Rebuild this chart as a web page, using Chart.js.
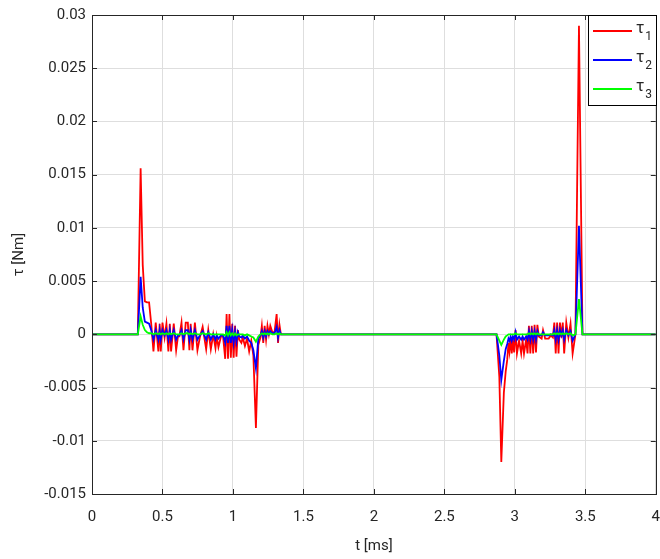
<!DOCTYPE html>
<html>
<head>
<meta charset="utf-8">
<script src="https://cdn.jsdelivr.net/npm/chart.js@4.4.1/dist/chart.umd.min.js"></script>
<style>
html,body{margin:0;padding:0;background:#fff;}
#wrap{width:660px;height:559px;position:relative;}
</style>
</head>
<body>
<div id="wrap"><canvas id="c" width="660" height="559"></canvas></div>
<script>
// ---- data (time in ms, torque in Nm) ----
const t = [0,0.325,0.345,0.36,0.375,0.39,0.405,0.42,0.436,0.452,0.471,0.48,0.488,0.50,0.515,0.528,0.542,0.552,0.561,0.58,0.597,0.61,0.62,0.635,0.649,0.665,0.68,0.691,0.70,0.713,0.73,0.748,0.765,0.785,0.81,0.825,0.843,0.86,0.876,0.885,0.897,0.915,0.93,0.945,0.955,0.965,0.975,0.985,0.995,1.005,1.015,1.025,1.035,1.045,1.06,1.07,1.085,1.10,1.115,1.13,1.145,1.163,1.18,1.195,1.205,1.215,1.225,1.235,1.245,1.255,1.265,1.28,1.295,1.31,1.32,1.33,1.34,2.87,2.89,2.904,2.922,2.935,2.946,2.955,2.962,2.97,2.978,2.986,2.995,3.005,3.015,3.03,3.045,3.055,3.065,3.08,3.09,3.10,3.11,3.12,3.13,3.14,3.15,3.16,3.17,3.19,3.20,3.215,3.24,3.255,3.27,3.28,3.29,3.30,3.31,3.32,3.33,3.34,3.35,3.365,3.38,3.395,3.41,3.43,3.455,3.48,4];
const tau1 = [0,0,0.0156,0.0065,0.0031,0.0030,0.0030,0.0010,-0.0016,0.0011,-0.0016,0.0010,-0.0016,0.0011,-0.0003,0.0010,-0.0016,0.0010,-0.0016,0.0010,-0.0015,-0.0002,-0.0002,0.0011,-0.0015,0.0011,0.0011,-0.0015,0.0010,-0.0015,0.0011,-0.0015,-0.0003,0.0007,-0.0014,0.0004,-0.0014,0.0000,-0.0013,-0.0002,-0.0012,-0.0002,-0.0002,-0.0023,0.0019,-0.0023,0.0019,-0.0022,0.0010,-0.0022,0.0008,-0.0021,0.0004,-0.0005,-0.0008,-0.0003,-0.0011,-0.0004,-0.0016,-0.0006,-0.0020,-0.0088,-0.0010,-0.0003,0.0008,-0.0008,0.0008,-0.0005,0.0008,0.0000,0.0008,0.0002,0.0002,0.0019,-0.0008,0.0009,0,0,-0.0040,-0.0120,-0.0055,-0.0035,-0.0024,-0.0008,-0.0016,-0.0004,-0.0018,-0.0005,-0.0017,0.0004,-0.0018,-0.0006,-0.0018,-0.0006,-0.0018,-0.0005,-0.0018,0.0008,-0.0018,0.0008,-0.0018,0.0009,-0.0017,0.0009,-0.0002,-0.0004,0.0004,-0.0004,-0.0004,-0.0001,-0.0003,0.0011,-0.0018,0.0011,-0.0018,0.0011,-0.0003,0.0011,-0.0018,0.0011,-0.0003,0.0010,-0.0018,0.0000,0.0290,0,0];
const tau2 = [0,0,0.0054,0.0025,0.0012,0.0011,0.0010,0.0004,-0.0005,0.0004,-0.0005,0.0004,-0.0005,0.0004,-0.0001,0.0004,-0.0005,0.0004,-0.0005,0.0004,-0.0005,-0.0001,-0.0001,0.0004,-0.0005,0.0004,0.0004,-0.0005,0.0004,-0.0005,0.0004,-0.0005,-0.0001,0.0003,-0.0005,0.0002,-0.0005,0,-0.0005,-0.0001,-0.0004,-0.0001,-0.0001,-0.0008,0.0008,-0.0008,0.0008,-0.0008,0.0004,-0.0008,0.0003,-0.0007,0.0002,-0.0002,-0.0003,-0.0001,-0.0004,-0.0002,-0.0006,-0.0008,-0.0015,-0.0032,-0.0004,-0.0001,0.0003,-0.0003,0.0003,-0.0002,0.0003,0,0.0003,0.0001,0.0001,0.0007,-0.0003,0.0004,0,0,-0.0020,-0.0043,-0.0025,-0.0014,-0.0009,-0.0004,-0.0006,-0.0002,-0.0006,-0.0002,-0.0005,0.0002,-0.0005,-0.0002,-0.0005,-0.0002,-0.0005,-0.0002,-0.0005,0.0003,-0.0005,0.0003,-0.0005,0.0003,-0.0005,0.0003,-0.0001,-0.0001,0.0002,-0.0001,-0.0001,0,-0.0001,0.0004,-0.0005,0.0004,-0.0005,0.0004,-0.0001,0.0004,-0.0005,0.0004,-0.0001,0.0003,-0.0006,0,0.0102,0,0];
const tau3 = [0,0,0.0017,0.0009,0.0004,0.0002,0.0001,0.0001,0,0.0001,0,0.0001,0,0.0001,0,0.0001,0,0.0001,0,0.0001,0,0,0,0.0001,0,0.0001,0.0001,0,0.0001,0,0.0001,0,0,0.0001,0,0.0001,0,0,0,0,0,0,0,-0.0001,0.0002,-0.0001,0.0002,-0.0001,0.0001,-0.0001,0.0001,-0.0001,0,0,0,0,-0.0001,0,-0.0001,-0.0002,-0.0003,-0.0007,-0.0002,0,0.0001,0,0.0001,0,0.0001,0,0.0001,0,0,0.0001,0,0.0001,0,0,-0.0006,-0.0010,-0.0005,-0.0002,-0.0001,0,0,0,0,0,0,0.0001,0,0,0,0,0,0,0,0.0001,0,0.0001,0,0.0001,0,0.0001,0,0,0,0,0,0,0,0.0001,0,0.0001,0,0.0001,0,0.0001,0,0.0001,0,0.0001,-0.0001,0,0.0033,0,0];
const seriesNames = ['τ1','τ2','τ3'];
const seriesColors = ['#ff0000','#0000ff','#00ff00'];
const xTicks = [0,0.5,1,1.5,2,2.5,3,3.5,4];
const yTicks = [-0.015,-0.01,-0.005,0,0.005,0.01,0.015,0.02,0.025,0.03];
const yTickLabels = ['-0.015','-0.01','-0.005','0','0.005','0.01','0.015','0.02','0.025','0.03'];
const xTickLabels = ['0','0.5','1','1.5','2','2.5','3','3.5','4'];

const FONT = 'Roboto, "Liberation Sans", Arial, sans-serif';
const TXT = '#262626';

const series = [tau1, tau2, tau3];
const datasets = series.map((vals, i) => ({
  label: seriesNames[i],
  data: t.map((x, k) => ({x: x, y: vals[k]})),
  borderColor: seriesColors[i],
  backgroundColor: seriesColors[i],
  borderWidth: 1.8,
  pointRadius: 0,
  tension: 0,
  fill: false,
  order: 2 - i
}));

const boxPlugin = {
  id: 'matlabBox',
  afterDraw(chart) {
    const ctx = chart.ctx, a = chart.chartArea;
    const xs = chart.scales.x, ys = chart.scales.y;
    ctx.save();
    ctx.strokeStyle = '#262626';
    ctx.lineWidth = 1;
    ctx.strokeRect(Math.round(a.left)+0.5, Math.round(a.top)+0.5, Math.round(a.right-a.left), Math.round(a.bottom-a.top));
    const L = 5;
    ctx.beginPath();
    xTicks.forEach(v => {
      const px = Math.round(xs.getPixelForValue(v)) + 0.5;
      ctx.moveTo(px, a.bottom); ctx.lineTo(px, a.bottom - L);
      ctx.moveTo(px, a.top); ctx.lineTo(px, a.top + L);
    });
    yTicks.forEach(v => {
      const py = Math.round(ys.getPixelForValue(v)) + 0.5;
      ctx.moveTo(a.left, py); ctx.lineTo(a.left + L, py);
      ctx.moveTo(a.right, py); ctx.lineTo(a.right - L, py);
    });
    ctx.stroke();

    // legend box (top-right, inside axes)
    const bw = 68, bh = 90;
    const bx = Math.round(a.right) - bw, by = Math.round(a.top);
    ctx.fillStyle = '#fff';
    ctx.fillRect(bx, by, bw, bh);
    ctx.strokeStyle = '#000';
    ctx.strokeRect(bx + 0.5, by + 0.5, bw, bh);
    chart.data.datasets.forEach((ds, i) => {
      const ly = by + 16 + i * 29;
      ctx.strokeStyle = ds.borderColor;
      ctx.lineWidth = 1.8;
      ctx.beginPath();
      ctx.moveTo(bx + 5, ly); ctx.lineTo(bx + 44, ly);
      ctx.stroke();
      ctx.fillStyle = TXT;
      ctx.textBaseline = 'middle';
      ctx.textAlign = 'left';
      ctx.font = '16px ' + FONT;
      const base = ds.label.charAt(0), sub = ds.label.slice(1);
      ctx.fillText(base, bx + 48, ly - 2);
      const w = ctx.measureText(base).width;
      ctx.font = '12px ' + FONT;
      ctx.fillText(sub, bx + 48 + w + 1, ly + 6);
    });
    ctx.restore();
  }
};

new Chart(document.getElementById('c'), {
  type: 'line',
  data: { datasets },
  options: {
    responsive: false,
    animation: false,
    devicePixelRatio: 1,
    layout: { padding: { left: 0, right: 0, top: 10, bottom: 0 } },
    plugins: { legend: { display: false }, tooltip: { enabled: false } },
    scales: {
      x: {
        type: 'linear', min: 0, max: 4,
        afterBuildTicks: s => { s.ticks = xTicks.map(v => ({value: v})); },
        afterFit: s => { s.height = 65; },
        ticks: {
          callback: (v) => xTickLabels[xTicks.indexOf(v)] ?? '',
          color: TXT, font: { family: FONT, size: 15 }, padding: 0, maxRotation: 0
        },
        grid: { color: '#dedede', lineWidth: 1, drawTicks: true, tickLength: 14, tickColor: 'rgba(0,0,0,0)' },
        border: { display: false },
        title: { display: true, text: 't [ms]', color: TXT, font: { family: FONT, size: 15 }, padding: { top: 4, bottom: 4 } }
      },
      y: {
        type: 'linear', min: -0.015, max: 0.03,
        afterBuildTicks: s => { s.ticks = yTicks.map(v => ({value: v})); },
        afterFit: s => { s.width = 92; },
        ticks: {
          callback: (v) => { const k = yTicks.findIndex(q => Math.abs(q - v) < 1e-9); return k >= 0 ? yTickLabels[k] : ''; },
          color: TXT, font: { family: FONT, size: 15 }, padding: 6
        },
        grid: { color: '#dedede', lineWidth: 1, drawTicks: false },
        border: { display: false },
        title: { display: true, text: 'τ [Nm]', color: TXT, font: { family: FONT, size: 15 }, padding: { top: 10, bottom: 4 } }
      }
    }
  },
  plugins: [boxPlugin]
});
</script>
</body>
</html>
